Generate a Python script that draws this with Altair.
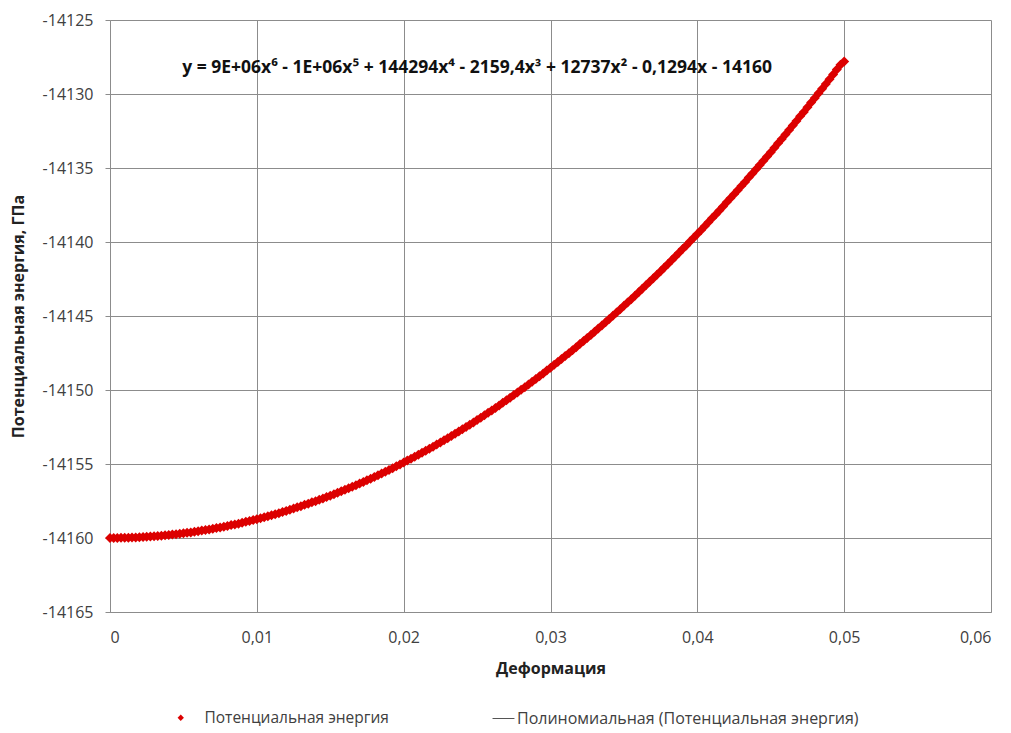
import altair as alt
import pandas as pd

# Strain values (step 0.00025) and potential energy
strain = [round(i * 0.00025, 5) for i in range(201)]
energy_offset = [
    0.00, 0.00, 0.00, 0.01, 0.01, 0.02, 0.03, 0.04, 0.05, 0.06,
    0.08, 0.10, 0.11, 0.13, 0.16, 0.18, 0.20, 0.23, 0.26, 0.29,
    0.32, 0.35, 0.38, 0.42, 0.46, 0.50, 0.54, 0.58, 0.62, 0.67,
    0.71, 0.76, 0.81, 0.87, 0.92, 0.97, 1.03, 1.09, 1.15, 1.21,
    1.27, 1.34, 1.40, 1.47, 1.54, 1.61, 1.68, 1.76, 1.83, 1.91,
    1.99, 2.07, 2.15, 2.24, 2.32, 2.41, 2.49, 2.59, 2.67, 2.77,
    2.86, 2.96, 3.06, 3.16, 3.26, 3.36, 3.46, 3.57, 3.68, 3.79,
    3.90, 4.01, 4.13, 4.24, 4.36, 4.48, 4.60, 4.72, 4.84, 4.97,
    5.10, 5.23, 5.35, 5.49, 5.62, 5.76, 5.89, 6.03, 6.17, 6.31,
    6.45, 6.60, 6.74, 6.89, 7.04, 7.19, 7.34, 7.50, 7.65, 7.81,
    7.97, 8.13, 8.30, 8.46, 8.62, 8.79, 8.96, 9.14, 9.31, 9.48,
    9.66, 9.83, 10.01, 10.19, 10.38, 10.56, 10.74, 10.93, 11.12, 11.31,
    11.50, 11.70, 11.89, 12.09, 12.29, 12.49, 12.69, 12.89, 13.10, 13.31,
    13.51, 13.72, 13.94, 14.15, 14.36, 14.58, 14.80, 15.02, 15.24, 15.46,
    15.69, 15.91, 16.14, 16.37, 16.61, 16.84, 17.08, 17.31, 17.55, 17.79,
    18.03, 18.28, 18.52, 18.77, 19.02, 19.27, 19.52, 19.77, 20.03, 20.28,
    20.54, 20.80, 21.06, 21.33, 21.60, 21.86, 22.13, 22.40, 22.68, 22.95,
    23.23, 23.50, 23.78, 24.06, 24.35, 24.63, 24.91, 25.20, 25.49, 25.78,
    26.07, 26.37, 26.67, 26.96, 27.27, 27.57, 27.87, 28.18, 28.49, 28.79,
    29.10, 29.42, 29.73, 30.05, 30.36, 30.68, 31.00, 31.32, 31.65, 31.97,
    32.20,
]
energy = [round(-14160 + v, 2) for v in energy_offset]

series_points = "Потенциальная энергия"
series_trend = "Полиномиальная (Потенциальная энергия)"
equation = "y = 9E+06x⁶ - 1E+06x⁵ + 144294x⁴ - 2159,4x³ + 12737x² - 0,1294x - 14160"

x_ticks = [0, 0.01, 0.02, 0.03, 0.04, 0.05, 0.06]
y_ticks = [-14165, -14160, -14155, -14150, -14145, -14140, -14135, -14130, -14125]

df = pd.DataFrame({"x": strain, "y": energy, "s1": series_points})

FONT = "Open Sans"
GRID = "#8c8c8c"
LABEL = "#404040"

x_enc = alt.X(
    "x:Q",
    scale=alt.Scale(domain=[0, 0.06], nice=False, zero=False),
    axis=alt.Axis(
        title="Деформация", values=x_ticks,
        labelExpr="datum.value == 0 ? '0' : replace(format(datum.value, '.2f'), '.', ',')",
        grid=True, gridColor=GRID, domainColor=GRID, ticks=False, tickSize=0,
        labelFont=FONT, labelFontSize=16, labelColor=LABEL, labelPadding=17,
        titleFont=FONT, titleFontSize=16, titleFontWeight="bold", titleColor="#222222",
        titlePadding=15,
    ),
)
y_enc = alt.Y(
    "y:Q",
    scale=alt.Scale(domain=[-14165, -14125], nice=False, zero=False),
    axis=alt.Axis(
        title="Потенциальная энергия, ГПа", values=y_ticks,
        labelExpr="toString(datum.value)",
        grid=True, gridColor=GRID, domainColor=GRID, tickColor=GRID, tickSize=5,
        labelFont=FONT, labelFontSize=16, labelColor=LABEL, labelPadding=12,
        titleFont=FONT, titleFontSize=16, titleFontWeight="bold", titleColor="#222222",
        titlePadding=16,
    ),
)

trend = alt.Chart(df).transform_regression(
    "x", "y", method="poly", order=6
).transform_calculate(
    s2=f"'{series_trend}'"
).mark_line(strokeWidth=1).encode(
    x=x_enc, y=y_enc,
    color=alt.Color(
        "s2:N",
        scale=alt.Scale(domain=[series_trend], range=["#555555"]),
        legend=alt.Legend(
            title=None, orient="none", legendX=382, legendY=687,
            symbolType="stroke", symbolSize=480, symbolStrokeWidth=1,
            labelFont=FONT, labelFontSize=16, labelColor=LABEL, labelOffset=2,
            labelLimit=800,
        ),
    ),
)

points = alt.Chart(df).mark_point(shape="diamond", filled=True, size=100, opacity=1).encode(
    x=x_enc, y=y_enc,
    color=alt.Color(
        "s1:N",
        scale=alt.Scale(domain=[series_points], range=["#dc0000"]),
        legend=alt.Legend(
            title=None, orient="none", legendX=63, legendY=690,
            symbolType="diamond", symbolSize=40,
            labelFont=FONT, labelFontSize=15.5, labelColor=LABEL, labelOffset=16,
            labelLimit=800,
        ),
    ),
)

eq = alt.Chart(pd.DataFrame({"t": [equation]})).mark_text(
    font=FONT, fontSize=17.5, fontWeight="bold", color="#111111", align="center", baseline="middle"
).encode(
    x=alt.datum(0.025), y=alt.datum(-14128.25), text="t:N"
)

chart = alt.layer(trend, points, eq).resolve_scale(color="independent").properties(
    width=881, height=592,
    padding={"left": 102, "top": 12, "right": 12, "bottom": 121},
    autosize=alt.AutoSizeParams(type="none"),
    background="white",
).configure_view(stroke=None)

chart.save("out.html", embed_options={"renderer": "svg", "actions": False})
